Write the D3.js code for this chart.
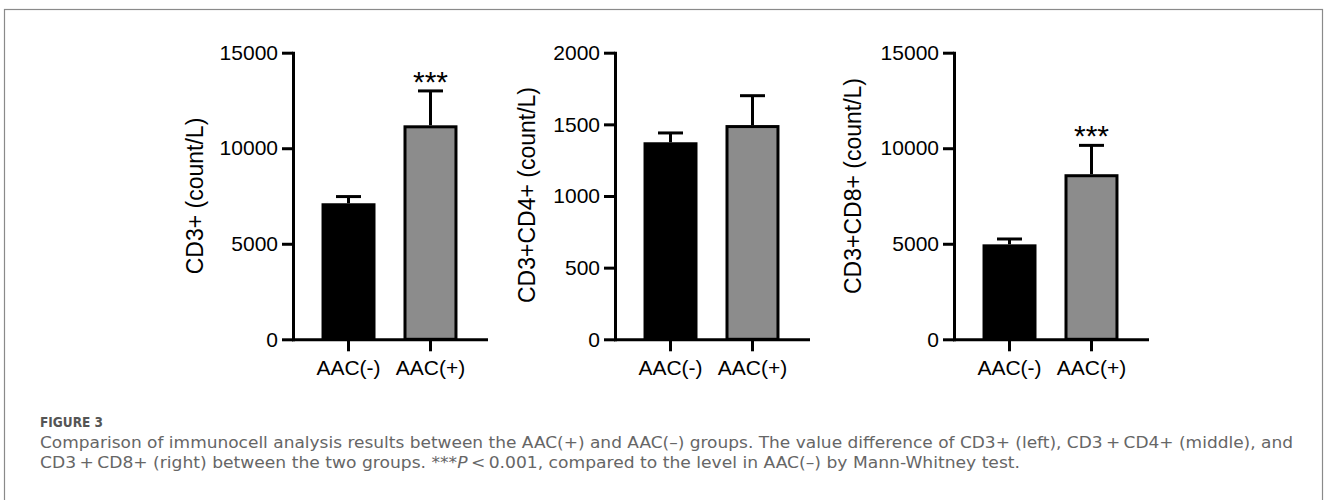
<!DOCTYPE html>
<html>
<head>
<meta charset="utf-8">
<script src="https://cdn.jsdelivr.net/npm/d3@7"></script>
<style>
  body { margin: 0; background: #fff; }
  svg { display: block; }
</style>
</head>
<body>
<svg width="1328" height="500"></svg>
<script>
// values (mean and upper error, count/L)
var groups = ["AAC(-)", "AAC(+)"];

var cd3Mean = [7120, 11200];
var cd3Err = [350, 1800];
var cd4Mean = [1375, 1495];
var cd4Err = [65, 205];
var cd8Mean = [4970, 8640];
var cd8Err = [280, 1510];

var cd3Stars = ["", "***"];
var cd4Stars = ["", ""];
var cd8Stars = ["", "***"];

var cd3Ticks = [0, 5000, 10000, 15000];
var cd4Ticks = [0, 500, 1000, 1500, 2000];
var cd8Ticks = [0, 5000, 10000, 15000];

var titles = ["CD3+ (count/L)", "CD3+CD4+ (count/L)", "CD3+CD8+ (count/L)"];
var barColors = ["#000000", "#8c8c8c"];

var captionHead = "FIGURE 3";
var captionLine1 = "Comparison of immunocell analysis results between the AAC(+) and AAC(\u2013) groups. The value difference of CD3+ (left), CD3\u2009+\u2009CD4+ (middle), and";
var captionLine2a = "CD3\u2009+\u2009CD8+ (right) between the two groups. ***";
var captionLine2b = "P";
var captionLine2c = "\u2009<\u20090.001, compared to the level in AAC(\u2013) by Mann-Whitney test.";

var svg = d3.select("svg");
var font = "'Liberation Sans', Arial, sans-serif";

// frame
svg.append("rect")
    .attr("x", 4.5).attr("y", 9.5)
    .attr("width", 1318).attr("height", 520)
    .attr("fill", "none")
    .attr("stroke", "#8a8a8a")
    .attr("stroke-width", 1.2);

var panels = [
    { x0: 293, mean: cd3Mean, err: cd3Err, ticks: cd3Ticks, stars: cd3Stars, title: titles[0], tx: 203, ty: 196 },
    { x0: 615, mean: cd4Mean, err: cd4Err, ticks: cd4Ticks, stars: cd4Stars, title: titles[1], tx: 535, ty: 195 },
    { x0: 954, mean: cd8Mean, err: cd8Err, ticks: cd8Ticks, stars: cd8Stars, title: titles[2], tx: 861, ty: 186 }
];

var plotTop = 52.7, plotBottom = 339.3;

panels.forEach(function (p) {
    var yScale = d3.scaleLinear()
        .domain([0, d3.max(p.ticks)])
        .range([plotBottom, plotTop]);

    var xScale = d3.scaleBand()
        .domain(groups)
        .range([p.x0, p.x0 + 193])
        .paddingInner(0.3415)
        .paddingOuter(0.348);

    var g = svg.append("g");

    var rows = groups.map(function (k, i) {
        return { key: k, mean: p.mean[i], err: p.err[i], star: p.stars[i], color: barColors[i] };
    });

    // bars
    g.selectAll(".bar")
        .data(rows)
        .enter()
        .append("rect")
        .attr("x", function (d) { return xScale(d.key) + 1.5; })
        .attr("y", function (d) { return yScale(d.mean) + 1.5; })
        .attr("width", xScale.bandwidth() - 3)
        .attr("height", function (d) { return plotBottom - yScale(d.mean) - 1.5; })
        .attr("fill", function (d) { return d.color; })
        .attr("stroke", "#000")
        .attr("stroke-width", 3);

    // error bars (upper only)
    g.selectAll(".errv")
        .data(rows)
        .enter()
        .append("line")
        .attr("x1", function (d) { return xScale(d.key) + xScale.bandwidth() / 2; })
        .attr("x2", function (d) { return xScale(d.key) + xScale.bandwidth() / 2; })
        .attr("y1", function (d) { return yScale(d.mean); })
        .attr("y2", function (d) { return yScale(d.mean + d.err); })
        .attr("stroke", "#000")
        .attr("stroke-width", 3);

    g.selectAll(".errh")
        .data(rows)
        .enter()
        .append("line")
        .attr("x1", function (d) { return xScale(d.key) + xScale.bandwidth() / 2 - 12.5; })
        .attr("x2", function (d) { return xScale(d.key) + xScale.bandwidth() / 2 + 12.5; })
        .attr("y1", function (d) { return yScale(d.mean + d.err); })
        .attr("y2", function (d) { return yScale(d.mean + d.err); })
        .attr("stroke", "#000")
        .attr("stroke-width", 3);

    // significance
    g.selectAll(".star")
        .data(rows)
        .enter()
        .append("text")
        .attr("x", function (d) { return xScale(d.key) + xScale.bandwidth() / 2; })
        .attr("y", function (d) { return yScale(d.mean + d.err) + 1; })
        .attr("text-anchor", "middle")
        .style("font-family", font)
        .style("font-size", "30px")
        .text(function (d) { return d.star; });

    // y axis
    var ya = g.append("g")
        .attr("transform", "translate(" + p.x0 + ",0)")
        .call(d3.axisLeft(yScale).tickValues(p.ticks).tickSize(11).tickSizeOuter(0).tickPadding(4).tickFormat(d3.format("d")));

    // x axis
    var xa = g.append("g")
        .attr("transform", "translate(0," + plotBottom + ")")
        .call(d3.axisBottom(xScale).tickSize(12).tickSizeOuter(0).tickPadding(9));

    [ya, xa].forEach(function (a) {
        a.select(".domain").attr("stroke", "#000").attr("stroke-width", 3).attr("stroke-linecap", "square");
        a.selectAll(".tick line").attr("stroke", "#000").attr("stroke-width", 3);
        a.selectAll(".tick text")
            .attr("fill", "#000")
            .style("font-family", font)
            .style("font-size", "21px");
    });

    // y title
    g.append("text")
        .attr("transform", "translate(" + p.tx + "," + p.ty + ") rotate(-90)")
        .attr("text-anchor", "middle")
        .style("font-family", font)
        .style("font-size", "23px")
        .text(p.title);
});

// caption
var capFont = "'DejaVu Sans', sans-serif";

svg.append("text")
    .attr("x", 40).attr("y", 427)
    .attr("fill", "#555")
    .attr("textLength", 63)
    .attr("lengthAdjust", "spacingAndGlyphs")
    .style("font-family", capFont)
    .style("font-size", "13.5px")
    .style("font-weight", "bold")
    .text(captionHead);

var l2 = svg.append("text")
    .attr("x", 40).attr("y", 468)
    .attr("fill", "#666")
    .attr("textLength", 980)
    .attr("lengthAdjust", "spacingAndGlyphs")
    .style("font-family", capFont)
    .style("font-size", "15px");
l2.append("tspan").text(captionLine2a);
l2.append("tspan").style("font-style", "italic").text(captionLine2b);
l2.append("tspan").text(captionLine2c);

svg.append("text")
    .attr("x", 40).attr("y", 448)
    .attr("fill", "#666")
    .attr("textLength", 1253)
    .attr("lengthAdjust", "spacingAndGlyphs")
    .style("font-family", capFont)
    .style("font-size", "15px")
    .text(captionLine1);
</script>
</body>
</html>
